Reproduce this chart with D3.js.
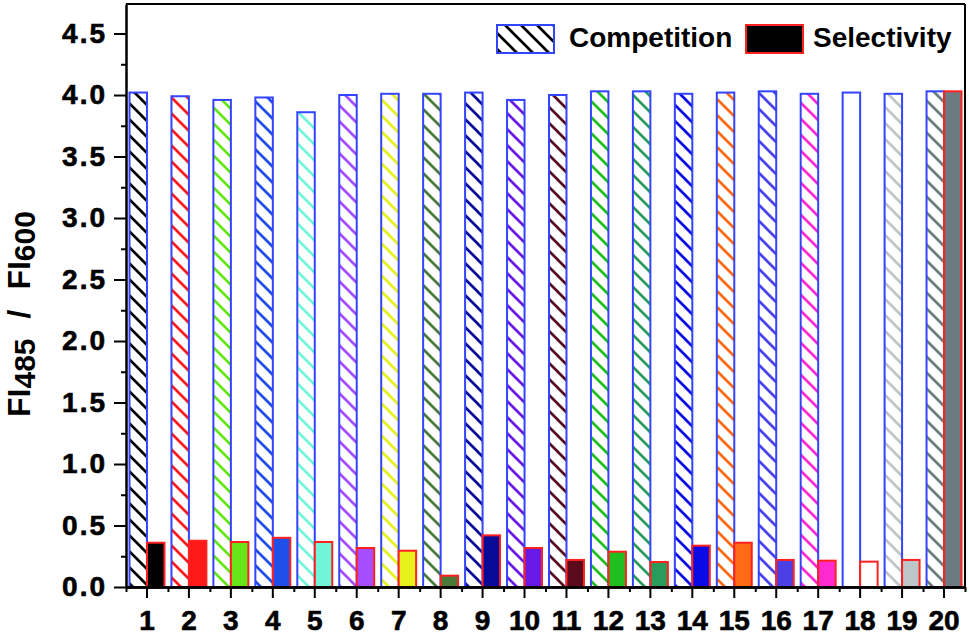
<!DOCTYPE html>
<html>
<head>
<meta charset="utf-8">
<script src="https://cdn.jsdelivr.net/npm/d3@7"></script>
<style>
  body { margin: 0; background: #fff; }
  svg text { font-family: "Liberation Sans", Arial, sans-serif; font-weight: bold; }
</style>
</head>
<body>
<svg width="969" height="636"></svg>
<script>
var categories = ["1", "2", "3", "4", "5", "6", "7", "8", "9", "10",
                  "11", "12", "13", "14", "15", "16", "17", "18", "19", "20"];

var competition = [4.02, 3.99, 3.96, 3.98, 3.86, 4.00, 4.01, 4.01, 4.02, 3.96,
                   4.00, 4.03, 4.03, 4.01, 4.02, 4.03, 4.01, 4.02, 4.01, 4.03];

var selectivity = [0.36, 0.376, 0.366, 0.40, 0.366, 0.317, 0.295, 0.092, 0.42, 0.317,
                   0.22, 0.287, 0.203, 0.336, 0.36, 0.22, 0.214, 0.206, 0.22, 4.03];

var colors = ["#000000", "#ff1a1a", "#66e619", "#1f4fe8", "#70f5d9", "#a64dff", "#e6f01a",
              "#4a7a3a", "#0a0a99", "#6a1ae6", "#5a0a1a", "#1fbf1f", "#2a9c5a", "#0a0ae6",
              "#ff6a14", "#4a40e6", "#ff2ad0", "#ffffff", "#bcc6c9", "#6b7b80"];

var yTicks = [0, 0.5, 1, 1.5, 2, 2.5, 3, 3.5, 4, 4.5];
var yMinor = [0.25, 0.75, 1.25, 1.75, 2.25, 2.75, 3.25, 3.75, 4.25];

var svg = d3.select("svg"),
    margin = {top: 4, right: 4, bottom: 49, left: 126},
    width = svg.attr("width") - margin.left - margin.right,
    height = svg.attr("height") - margin.top - margin.bottom,
    defs = svg.append("defs"),
    g = svg.append("g").attr("transform", "translate(" + margin.left + "," + margin.top + ")");

var x = d3.scaleBand().domain(categories).range([0, width]),
    xs = d3.scaleBand().domain(["comp", "sel"]).range([0, x.bandwidth()]).paddingOuter(0.2),
    xm = d3.scaleLinear().domain([0.5, categories.length + 0.5]).range([0, width]),
    y = d3.scaleLinear().domain([0, 4.74]).range([height, 0]);

// one hatch pattern per colour
function hatch(id, color) {
    var p = defs.append("pattern")
        .attr("id", id)
        .attr("patternUnits", "userSpaceOnUse")
        .attr("width", 16)
        .attr("height", 16);
    p.append("path")
        .attr("d", "M0,0L16,16M-4,12L4,20M12,-4L20,4")
        .attr("stroke", color)
        .attr("stroke-width", 2.7)
        .attr("fill", "none");
}

colors.forEach(function(c, i) {
    hatch("h" + i, c);
});
hatch("hlegend", "#000");

var rows = categories.map(function(c, i) {
    return {cat: c, comp: competition[i], sel: selectivity[i], i: i};
});

// competition bars (hatched)
g.selectAll(".comp")
    .data(rows)
    .enter().append("rect")
    .attr("class", "comp")
    .attr("x", function(d) { return x(d.cat) + xs("comp"); })
    .attr("y", function(d) { return y(d.comp); })
    .attr("width", xs.bandwidth())
    .attr("height", function(d) { return y(0) - y(d.comp); })
    .attr("fill", function(d) { return "url(#h" + d.i + ")"; })
    .attr("stroke", "#3344ff")
    .attr("stroke-width", 2);

// selectivity bars (solid)
g.selectAll(".sel")
    .data(rows)
    .enter().append("rect")
    .attr("class", "sel")
    .attr("x", function(d) { return x(d.cat) + xs("sel"); })
    .attr("y", function(d) { return y(d.sel); })
    .attr("width", xs.bandwidth())
    .attr("height", function(d) { return y(0) - y(d.sel); })
    .attr("fill", function(d) { return colors[d.i]; })
    .attr("stroke", "#ff2020")
    .attr("stroke-width", 2);

// frame
g.append("line")
    .attr("x1", 0).attr("x2", width)
    .attr("y1", 0).attr("y2", 0)
    .attr("stroke", "#000").attr("stroke-width", 2);
g.append("line")
    .attr("x1", width).attr("x2", width)
    .attr("y1", 0).attr("y2", height)
    .attr("stroke", "#000").attr("stroke-width", 2);

// axes
g.append("g")
    .attr("class", "axis y")
    .call(d3.axisLeft(y).tickValues(yMinor).tickSize(5).tickSizeOuter(0).tickFormat(""));

g.append("g")
    .attr("class", "axis y major")
    .call(d3.axisLeft(y).tickValues(yTicks).tickSize(12).tickSizeOuter(0).tickPadding(7)
        .tickFormat(d3.format(".1f")));

g.append("g")
    .attr("class", "axis x")
    .attr("transform", "translate(0," + height + ")")
    .call(d3.axisBottom(xm).tickValues(d3.range(0.5, categories.length + 1, 1)).tickSize(5)
        .tickSizeOuter(0).tickFormat(""));

g.append("g")
    .attr("class", "axis x")
    .attr("transform", "translate(0," + height + ")")
    .call(d3.axisBottom(x).tickSize(11).tickSizeOuter(0).tickPadding(12));

g.selectAll(".axis path, .axis line")
    .attr("stroke", "#000")
    .attr("stroke-width", 2);
g.selectAll(".axis text")
    .attr("font-size", 28)
    .attr("fill", "#000")
    .attr("stroke", "#000")
    .attr("stroke-width", 0.6);
g.selectAll(".axis.y.major text")
    .attr("letter-spacing", 2);
g.selectAll(".axis.x .domain").attr("stroke-width", 2.5);

// y label
var yl = svg.append("text")
    .attr("transform", "translate(30,314) rotate(-90)")
    .attr("text-anchor", "middle")
    .attr("font-size", 32)
    .attr("fill", "#000");
yl.append("tspan").text("FI");
yl.append("tspan").attr("font-size", 30).attr("dy", 5).text("485");
yl.append("tspan").attr("dy", -5).attr("dx", 20).text("/");
yl.append("tspan").attr("dx", 20).text("FI");
yl.append("tspan").attr("font-size", 30).attr("dy", 5).text("600");

// legend
var legend = svg.append("g");
legend.append("rect")
    .attr("x", 497).attr("y", 25).attr("width", 57).attr("height", 28)
    .attr("fill", "url(#hlegend)")
    .attr("stroke", "#3344ff").attr("stroke-width", 2);
legend.append("text")
    .attr("x", 569).attr("y", 47)
    .attr("font-size", 28)
    .text("Competition");
legend.append("rect")
    .attr("x", 746).attr("y", 25).attr("width", 57).attr("height", 28)
    .attr("fill", "#000")
    .attr("stroke", "#ff2020").attr("stroke-width", 2);
legend.append("text")
    .attr("x", 813).attr("y", 47)
    .attr("font-size", 28)
    .text("Selectivity");
</script>
</body>
</html>
